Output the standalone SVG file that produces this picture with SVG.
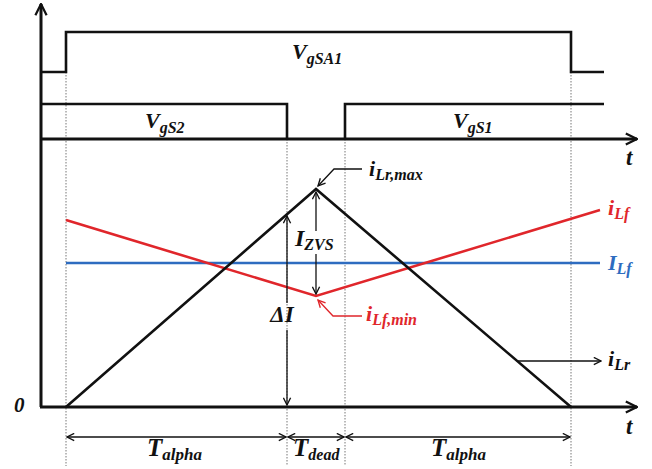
<svg xmlns="http://www.w3.org/2000/svg" width="652" height="469" viewBox="0 0 652 469">
<defs>
<style>
.ax{stroke:#111;stroke-width:3;fill:none}
.pl{stroke:#111;stroke-width:2.6;fill:none;stroke-linejoin:miter}
.dot{stroke:#777;stroke-width:1;stroke-dasharray:1.5,1.5;fill:none}
.ann{stroke:#111;stroke-width:1.3;fill:none}
.lbl{font-family:"Liberation Serif",serif;font-style:italic;font-weight:bold;fill:#111}
.red{fill:#e0262b}
.blue{fill:#2e6cc0}
</style>
<marker id="ah" viewBox="0 0 10 10" refX="9" refY="5" markerWidth="9" markerHeight="9" markerUnits="userSpaceOnUse" orient="auto-start-reverse">
<path d="M1,1 L9,5 L1,9" fill="none" stroke="#111" stroke-width="1.5"/>
</marker>
<marker id="ahr" viewBox="0 0 10 10" refX="9" refY="5" markerWidth="9" markerHeight="9" markerUnits="userSpaceOnUse" orient="auto-start-reverse">
<path d="M1,1 L9,5 L1,9" fill="none" stroke="#e0262b" stroke-width="1.5"/>
</marker>
<marker id="ahb" viewBox="0 0 10 10" refX="9" refY="5" markerWidth="14" markerHeight="14" markerUnits="userSpaceOnUse" orient="auto-start-reverse">
<path d="M1,1 L9,5 L1,9" fill="none" stroke="#111" stroke-width="1.6"/>
</marker>
</defs>
<rect width="652" height="469" fill="#fff"/>

<g id="guides">
<line class="dot" x1="66" y1="72" x2="66" y2="466"/>
<line class="dot" x1="287" y1="139" x2="287" y2="466"/>
<line class="dot" x1="345" y1="139" x2="345" y2="466"/>
<line class="dot" x1="571" y1="72" x2="571" y2="466"/>
</g>

<g id="axes">
<line class="ax" x1="41" y1="407" x2="41" y2="4" marker-end="url(#ahb)"/>
<line class="ax" x1="40" y1="407" x2="637" y2="407" marker-end="url(#ahb)"/>
<line class="ax" x1="40" y1="139" x2="637" y2="139" marker-end="url(#ahb)"/>
</g>

<g id="VgSA1">
<polyline class="pl" points="41,72 66,72 66,32 571,32 571,72 604,72"/>
<text class="lbl" x="292" y="59" font-size="22">V<tspan font-size="16" dy="5">gSA1</tspan></text>
</g>
<g id="VgS2">
<polyline class="pl" points="41,104 287,104 287,139"/>
<text class="lbl" x="145" y="128" font-size="22">V<tspan font-size="16" dy="5">gS2</tspan></text>
</g>
<g id="VgS1">
<polyline class="pl" points="345,139 345,104 604,104"/>
<text class="lbl" x="453" y="128" font-size="22">V<tspan font-size="16" dy="5">gS1</tspan></text>
</g>

<g id="ILf">
<line x1="66" y1="263" x2="600" y2="263" stroke="#2e6cc0" stroke-width="2.6"/>
<text class="lbl blue" x="608" y="270" font-size="22">I<tspan font-size="16" dy="4">Lf</tspan></text>
</g>
<g id="iLf">
<polyline points="66,220 316,296 600,210" fill="none" stroke="#e0262b" stroke-width="2.6"/>
<text class="lbl red" x="608" y="215" font-size="22">i<tspan font-size="16" dy="4">Lf</tspan></text>
</g>
<g id="iLr">
<polyline class="pl" points="66,407 316,189 571,407"/>
<text class="lbl" x="608" y="366" font-size="22">i<tspan font-size="16" dy="4">Lr</tspan></text>
</g>

<g id="connectors">
<line class="ann" x1="518" y1="361" x2="601" y2="361" marker-end="url(#ah)"/>
<polyline class="ann" points="362,169 334,169 318,186" marker-end="url(#ah)"/>
<polyline points="362,316 333,316 318,300" fill="none" stroke="#e0262b" stroke-width="1.3" marker-end="url(#ahr)"/>
<line class="ann" x1="316" y1="231" x2="316" y2="192" marker-end="url(#ah)"/>
<line class="ann" x1="316" y1="254" x2="316" y2="294" marker-end="url(#ah)"/>
<line class="ann" x1="287" y1="303" x2="287" y2="216" marker-end="url(#ah)"/>
<line class="ann" x1="287" y1="330" x2="287" y2="405" marker-end="url(#ah)"/>
<line class="ann" x1="67" y1="437" x2="286" y2="437" marker-start="url(#ah)" marker-end="url(#ah)"/>
<line class="ann" x1="288" y1="437" x2="344" y2="437" marker-start="url(#ah)" marker-end="url(#ah)"/>
<line class="ann" x1="346" y1="437" x2="570" y2="437" marker-start="url(#ah)" marker-end="url(#ah)"/>
</g>

<g id="labels">
<text class="lbl" x="369" y="176" font-size="22">i<tspan font-size="16" dy="4">Lr,max</tspan></text>
<text class="lbl red" x="366" y="321" font-size="22">i<tspan font-size="16" dy="4">Lf,min</tspan></text>
<text class="lbl" x="295" y="246" font-size="24">I<tspan font-size="16" dy="4">ZVS</tspan></text>
<text class="lbl" x="282" y="322" font-size="23" text-anchor="middle">ΔI</text>
<text class="lbl" x="147" y="456" font-size="25">T<tspan font-size="17" dy="4">alpha</tspan></text>
<text class="lbl" x="293" y="456" font-size="25">T<tspan font-size="16" dy="4">dead</tspan></text>
<text class="lbl" x="431" y="456" font-size="25">T<tspan font-size="17" dy="4">alpha</tspan></text>
<text class="lbl" x="14" y="412" font-size="21">0</text>
<text class="lbl" x="626" y="165" font-size="23">t</text>
<text class="lbl" x="626" y="434" font-size="23">t</text>
</g>
</svg>
